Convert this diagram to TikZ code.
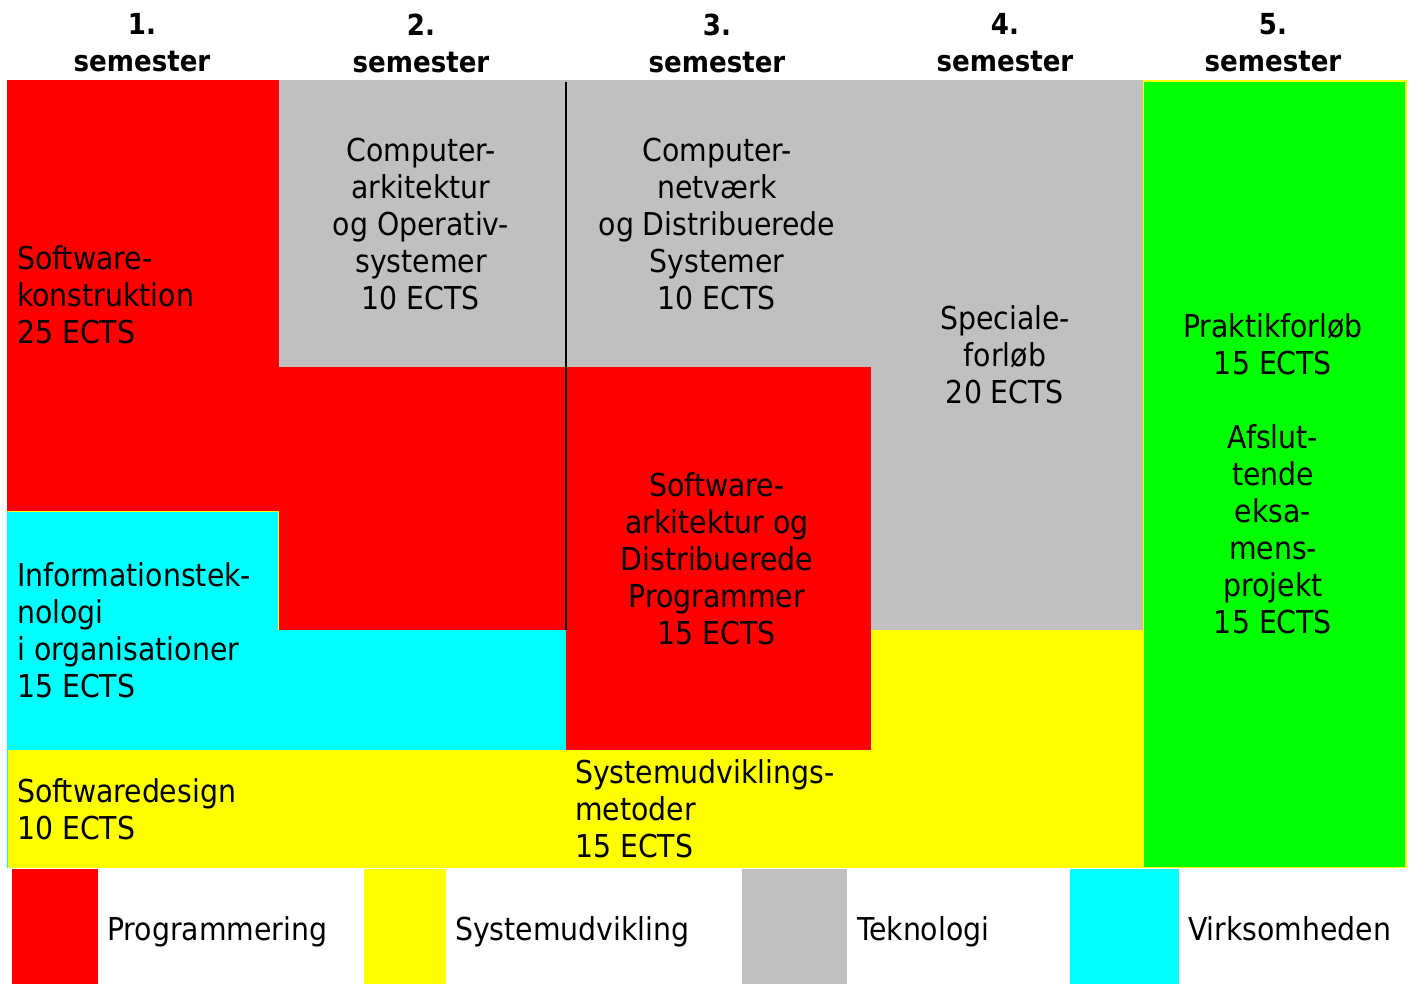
\documentclass[tikz,border=0pt]{standalone}
\usepackage{fontspec}
\setmainfont{DejaVu Sans Condensed}
\definecolor{cred}{HTML}{FF0000}
\definecolor{cgray}{HTML}{C0C0C0}
\definecolor{cyel}{HTML}{FFFF00}
\definecolor{ccyan}{HTML}{00FFFF}
\definecolor{cgreen}{HTML}{00FF00}
\tikzset{
  lbl/.style={font=\fontsize{31.5}{37}\selectfont, inner sep=0pt, align=center},
  lbll/.style={lbl, align=left, anchor=west},
  hdr/.style={font=\bfseries\fontsize{29}{37}\selectfont, inner sep=0pt, align=center},
  leg/.style={font=\fontsize{31.5}{37}\selectfont, inner sep=0pt, anchor=base west},
}
\begin{document}
\begin{tikzpicture}[x=1pt,y=-1pt]
\useasboundingbox[fill=white] (0,0) rectangle (1414,984);
% regions
\fill[cgray] (279,80) rectangle (1143,630);
\fill[cred] (7,80) rectangle (279,511);
\fill[cred] (279,367) rectangle (566,630);
\fill[cred] (566,367) rectangle (871,750);
\fill[ccyan] (7,511) rectangle (279,630);
\fill[ccyan] (7,630) rectangle (566,750);
\draw[cyel, line width=1pt] (7,511.5) -- (278.5,511.5) -- (278.5,630);
\fill[cyel] (7,750) rectangle (871,868);
\fill[cyel] (871,630) rectangle (1143,868);
\draw[ccyan, line width=1pt] (7,750) -- (7,868);
\fill[cgreen] (1143,81) rectangle (1406,868);
\draw[cyel, line width=1.5pt] (1143.5,81) rectangle (1406,867.5);
\draw[black, line width=1.5pt] (566,82) -- (566,630);
% legend swatches
\fill[cred] (12,869) rectangle (98,984);
\fill[cyel] (364,869) rectangle (446,984);
\fill[cgray] (742,869) rectangle (847,984);
\fill[ccyan] (1070,869) rectangle (1179,984);
% headers
\node[hdr] (h1) at (142,43) {1.\\semester};
\node[hdr] (h2) at (421,43) {2.\\semester};
\node[hdr] (h3) at (717,43) {3.\\semester};
\node[hdr] (h4) at (1005,43) {4.\\semester};
\node[hdr] (h5) at (1273,43) {5.\\semester};
% region labels
\node[lbll] (swk) at (17,295) {Software-\\konstruktion\\25 ECTS};
\node[lbl] (caos) at (421,224) {Computer-\\arkitektur\\og Operativ-\\systemer\\10 ECTS};
\node[lbl] (cnds) at (717,224) {Computer-\\netværk\\og Distribuerede\\Systemer\\10 ECTS};
\node[lbl] (spec) at (1005,355) {Speciale-\\forløb\\20 ECTS};
\node[lbl] (prak) at (1273,474) {Praktikforløb\\15 ECTS\\[37pt]Afslut-\\tende\\eksa-\\mens-\\projekt\\15 ECTS};
\node[lbl] (sadp) at (717,559) {Software-\\arkitektur og\\Distribuerede\\Programmer\\15 ECTS};
\node[lbll] (itio) at (17,630) {Informationstek-\\nologi\\i organisationer\\15 ECTS};
\node[lbll] (swd) at (17,809) {Softwaredesign\\10 ECTS};
\node[lbll] (sum) at (575,809) {Systemudviklings-\\metoder\\15 ECTS};
% legend labels
\node[leg] (lp) at (107,940) {Programmering};
\node[leg] (ls) at (455,940) {Systemudvikling};
\node[leg] (lt) at (857,940) {Teknologi};
\node[leg] (lv) at (1188,940) {Virksomheden};
\end{tikzpicture}
\end{document}
